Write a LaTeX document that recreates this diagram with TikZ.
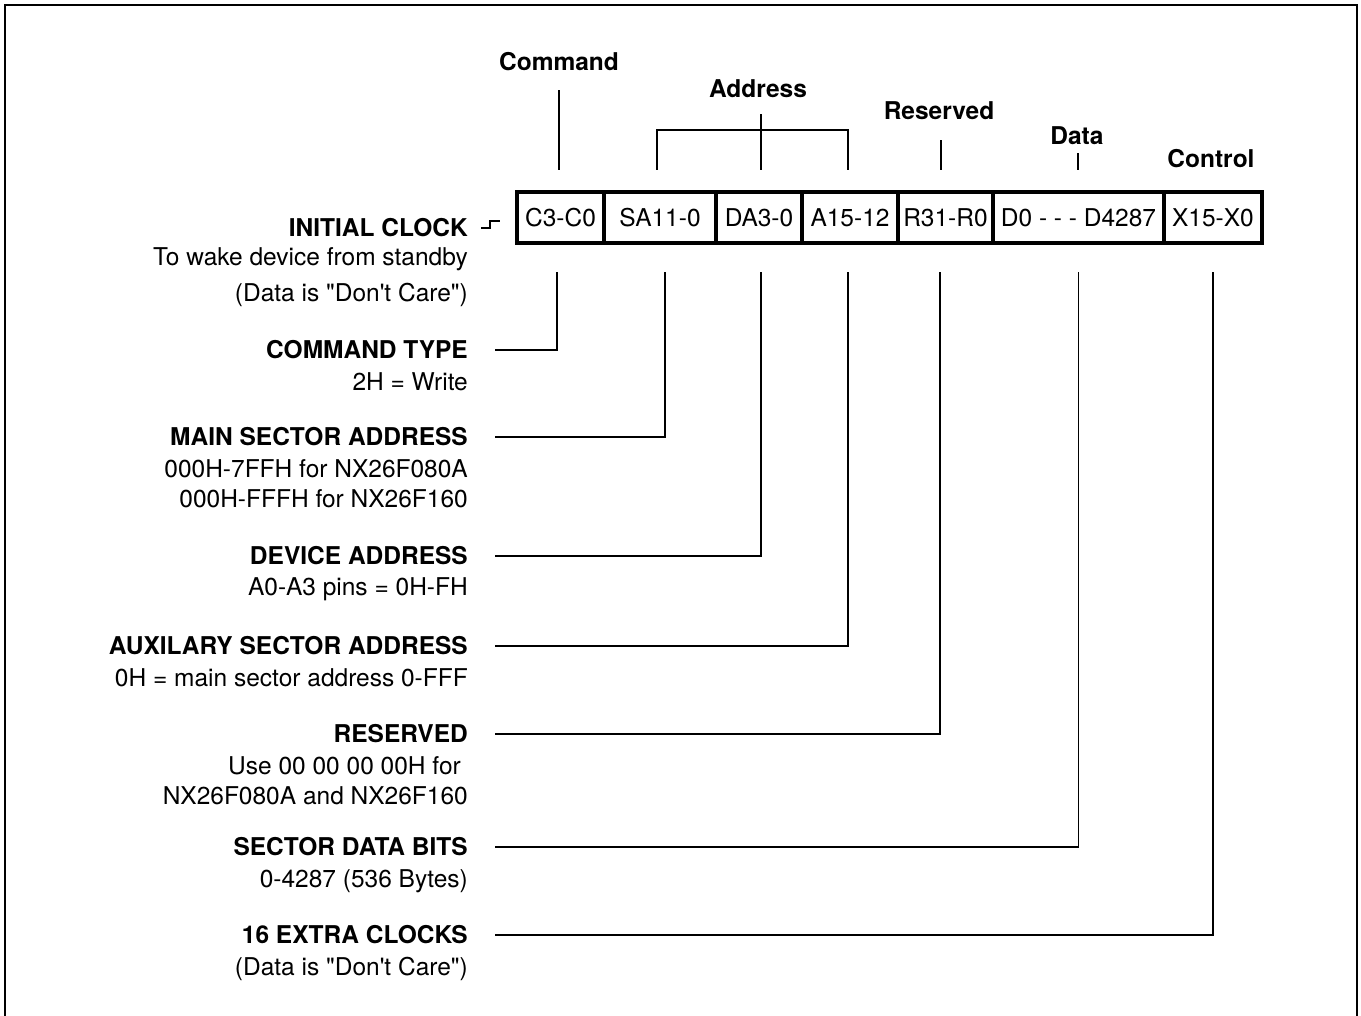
\documentclass[tikz,border=0pt]{standalone}
\usepackage{fontspec}
\setmainfont{TeX Gyre Heros}
\usetikzlibrary{positioning}

\begin{document}
\begin{tikzpicture}[x=1pt,y=-1pt,every node/.style={font=\fontsize{24.5}{29.5}\selectfont,inner sep=0pt},
field/.style={draw,line width=4pt,outer sep=0pt,minimum height=51pt},
group/.style={font=\fontsize{24.5}{29.5}\selectfont\bfseries,anchor=base},
title/.style={font=\fontsize{24.5}{29.5}\selectfont\bfseries,anchor=east},
desc/.style={align=right,anchor=north east},
wire/.style={line width=1.2pt}]
\useasboundingbox (0,0) rectangle (1361,1016);
\draw[line width=2.5pt] (5,1030) -- (5,5) -- (1357,5) -- (1357,1030);

\node[field,minimum width=87pt] (cC) at (560.5,218) {C3-C0};
\node[field,minimum width=112pt,right=0pt of cC] (cSA) {SA11-0};
\node[field,minimum width=86pt,right=0pt of cSA] (cDA) {DA3-0};
\node[field,minimum width=96pt,right=0pt of cDA] (cA) {A15-12};
\node[field,minimum width=95pt,right=0pt of cA] (cR) {R31-R0};
\node[field,minimum width=171pt,right=0pt of cR] (cD) {D0 - - - D4287};
\node[field,minimum width=98pt,right=0pt of cD] (cX) {X15-X0};

\node[group] (tCmd) at (559,71) {Command};
\node[group] (tAddr) at (758,98) {Address};
\node[group] (tRes) at (939,120) {Reserved};
\node[group] (tData) at (1077,145) {Data};
\node[group] (tCtrl) at (1211,168) {Control};
\coordinate (bL) at (657,170);
\coordinate (bR) at (848,170);
\draw[wire] (tCmd.south) ++(0,19) -- ++(0,80);
\draw[wire] (tAddr.south) ++(3,16) -- ++(0,56);
\draw[wire] (bL) -- ++(0,-40) -| (bR);
\draw[wire] (tRes.south) ++(2,20) -- ++(0,30);
\draw[wire] (tData.south) ++(1,8) -- ++(0,17);

\node[title] (lInit) at (468,228) {INITIAL CLOCK};
\node[desc] (dInit) at ([yshift=-10pt]lInit.south east) {To wake device from standby\\[6pt](Data is \textquotedbl Don\textquotesingle t Care\textquotedbl)};
\draw[line width=1.5pt] (lInit.east) ++(13,0) -- ++(9,0) -- ++(0,-7) -- ++(10,0);

\node[title] (lCmd) at (468,350) {COMMAND TYPE};
\node[desc] (dCmd) at ([yshift=-13pt]lCmd.south east) {2H = Write};
\node[title] (lMain) at (468,437) {MAIN SECTOR ADDRESS};
\node[desc] (dMain) at ([yshift=-13pt]lMain.south east) {000H-7FFH for NX26F080A\\000H-FFFH for NX26F160};
\node[title] (lDev) at (468,556) {DEVICE ADDRESS};
\node[desc] (dDev) at ([yshift=-12pt]lDev.south east) {A0-A3 pins = 0H-FH};
\node[title] (lAux) at (468,646) {AUXILARY SECTOR ADDRESS};
\node[desc] (dAux) at ([yshift=-13pt]lAux.south east) {0H = main sector address 0-FFF};
\node[title] (lRes) at (468,734) {RESERVED};
\node[desc] (dRes) at ([yshift=-13pt]lRes.south east) {Use 00 00 00 00H for\hspace*{7pt}\\NX26F080A and NX26F160};
\node[title] (lData) at (468,847) {SECTOR DATA BITS};
\node[desc] (dData) at ([yshift=-13pt]lData.south east) {0-4287 (536 Bytes)};
\node[title] (lCtrl) at (468,935) {16 EXTRA CLOCKS};
\node[desc] (dCtrl) at ([yshift=-13pt]lCtrl.south east) {(Data is \textquotedbl Don\textquotesingle t Care\textquotedbl)};

\draw[wire] (cC.south) ++(-3.5,29) |- ([xshift=27pt]lCmd.east);
\draw[wire] (cSA.south) ++(5,29) |- ([xshift=27pt]lMain.east);
\draw[wire] (cDA.south) ++(2,29) |- ([xshift=27pt]lDev.east);
\draw[wire] (cA.south) ++(-2,29) |- ([xshift=27pt]lAux.east);
\draw[wire] (cR.south) ++(-5.5,29) |- ([xshift=27pt]lRes.east);
\draw[wire] (cD.south) ++(0,29) |- ([xshift=27pt]lData.east);
\draw[wire] (cX.south) ++(0,29) |- ([xshift=27pt]lCtrl.east);
\end{tikzpicture}
\end{document}
